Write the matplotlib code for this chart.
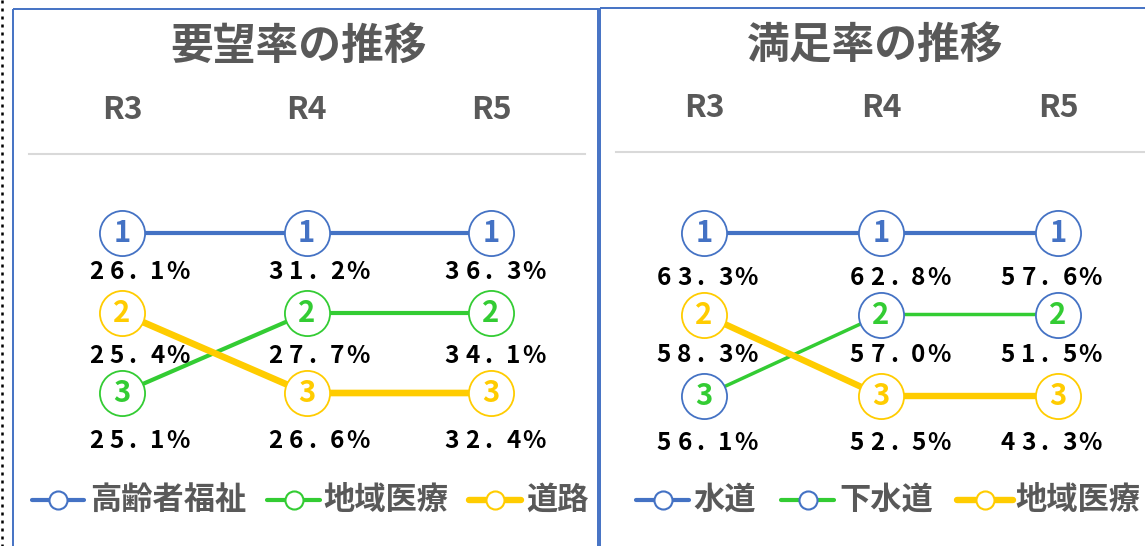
import matplotlib
matplotlib.use("Agg")
import matplotlib.pyplot as plt
from matplotlib.patches import Rectangle
from matplotlib.transforms import blended_transform_factory
import numpy as np

plt.rcParams['font.family'] = ['Noto Sans CJK JP', 'DejaVu Sans']

# ---------------- data ----------------
years = ["R3", "R4", "R5"]

demand_title = "要望率の推移"
demand_categories = ["高齢者福祉", "地域医療", "道路"]
demand_elderly = [26.1, 31.2, 36.3]
demand_medical = [25.1, 27.7, 34.1]
demand_road = [25.4, 26.6, 32.4]

satis_title = "満足率の推移"
satis_categories = ["水道", "下水道", "地域医療"]
satis_water = [63.3, 62.8, 57.6]
satis_sewer = [56.1, 57.0, 51.5]
satis_medical = [58.3, 52.5, 43.3]

# ---------------- style ----------------
BLUE = "#4472C4"
GREEN = "#33CC33"
YELLOW = "#FFCC00"
GRAY = "#595959"

W, H = 1145, 546
fig = plt.figure(figsize=(W / 100, H / 100), dpi=100)

bg = fig.add_axes([0, 0, 1, 1], zorder=0)
bg.set_xlim(0, W)
bg.set_ylim(H, 0)
bg.axis("off")

# frames
bg.add_patch(Rectangle((13, 9), 585, 700, fill=False, ec=BLUE, lw=1.4))
bg.add_patch(Rectangle((600, 8), 700, 700, fill=False, ec=BLUE, lw=1.4))
bg.plot([2, 2], [0, H], color="black", ls=(0, (1.2, 2)), lw=1.8)

CELL = 20.5  # px per character cell of the value labels
VFS = 17.5   # value label font size


def draw_value(ax, text, xy, dx, dy):
    """Draw a value label with monospaced (full-width style) character cells."""
    n = len(text)
    for k, ch in enumerate(text):
        cx = dx + (k - (n - 1) / 2) * CELL
        if ch == ".":
            ax.annotate(ch, xy, xytext=((cx - CELL / 2 + 2) * 0.72, -dy * 0.72),
                        textcoords="offset points", ha="left", va="center",
                        fontsize=VFS, fontweight="bold", color="black", zorder=4)
        else:
            ax.annotate(ch, xy, xytext=(cx * 0.72, -dy * 0.72),
                        textcoords="offset points", ha="center", va="center",
                        fontsize=VFS, fontweight="bold", color="black", zorder=4)


def draw_panel(title, title_xy, xpix, ypix, values, styles, label_dx, label_dy,
               header_y, rule, legend_cats, legend_pos, legend_y):
    ax = fig.add_axes([xpix[0] / W, 1 - ypix[1] / H,
                       (xpix[1] - xpix[0]) / W, (ypix[1] - ypix[0]) / H], zorder=2)
    ax.set_xlim(0, 2)
    ax.set_ylim(3, 1)
    ax.axis("off")
    vals = np.array(values)
    ranks = (-vals).argsort(axis=0).argsort(axis=0) + 1
    x = np.arange(len(years))
    for i, st in enumerate(styles):
        ax.plot(x, ranks[i], color=st["line"], lw=st["lw"], zorder=2,
                solid_capstyle="butt", clip_on=False)
    for i, st in enumerate(styles):
        for j in x:
            r = ranks[i, j]
            ax.plot(j, r, "o", ms=32.5, mfc="white", mec=st["edge"], mew=1.3,
                    zorder=3, clip_on=False)
            ax.text(j, r, str(r), color=st["num"], ha="center", va="center",
                    fontsize=21, fontweight="bold", zorder=4)
            draw_value(ax, f"{vals[i, j]:.1f}%", (j, r), label_dx[j], label_dy[r - 1])
    tr = blended_transform_factory(ax.transData, fig.transFigure)
    for j, yl in enumerate(years):
        ax.text(j, 1 - header_y / H, yl, transform=tr, ha="center", va="center",
                fontsize=23, color=GRAY, fontweight="bold")
    bg.text(title_xy[0], title_xy[1], title, ha="center", va="center",
            fontsize=30.8, fontweight="bold", color=GRAY)
    bg.plot(rule[0], [rule[1], rule[1]], color="#D9D9D9", lw=1.5)
    # legend
    for (x0, x1, tx), cat, st in zip(legend_pos, legend_cats, styles):
        bg.plot([x0, x1], [legend_y, legend_y], color=st["line"],
                lw=st["legend_lw"], solid_capstyle="round", zorder=3)
        bg.plot((x0 + x1) / 2, legend_y, "o", ms=13, mfc="white",
                mec=st["edge"], mew=1.5, zorder=4)
        bg.text(tx, legend_y, cat, ha="left", va="center", fontsize=22.5,
                fontweight="bold", color=GRAY)


demand_styles = [
    dict(line=BLUE, edge=BLUE, num=BLUE, lw=3.0, legend_lw=3.0),
    dict(line=GREEN, edge=GREEN, num=GREEN, lw=3.0, legend_lw=3.0),
    dict(line=YELLOW, edge=YELLOW, num=YELLOW, lw=4.8, legend_lw=4.6),
]
satis_styles = [
    dict(line=BLUE, edge=BLUE, num=BLUE, lw=3.0, legend_lw=3.0),
    dict(line=GREEN, edge=BLUE, num=GREEN, lw=2.5, legend_lw=3.0),
    dict(line=YELLOW, edge=YELLOW, num=YELLOW, lw=4.6, legend_lw=4.6),
]

draw_panel(demand_title, (299, 46), (122, 491), (233, 393),
           [demand_elderly, demand_medical, demand_road], demand_styles,
           label_dx=[15, 10, 2], label_dy=[39, 43, 48], header_y=110,
           rule=([29, 585], 154), legend_cats=demand_categories,
           legend_pos=[(32, 84, 90), (267, 320, 323), (469, 521, 526)],
           legend_y=500)

draw_panel(satis_title, (875, 45), (704, 1058), (233, 396),
           [satis_water, satis_sewer, satis_medical], satis_styles,
           label_dx=[1, 17, -9], label_dy=[45, 41, 47], header_y=108,
           rule=([616, W], 152), legend_cats=satis_categories,
           legend_pos=[(636, 689, 693), (781, 834, 839), (957, 1013, 1015)],
           legend_y=500)

fig.savefig("out.png", dpi=100)
